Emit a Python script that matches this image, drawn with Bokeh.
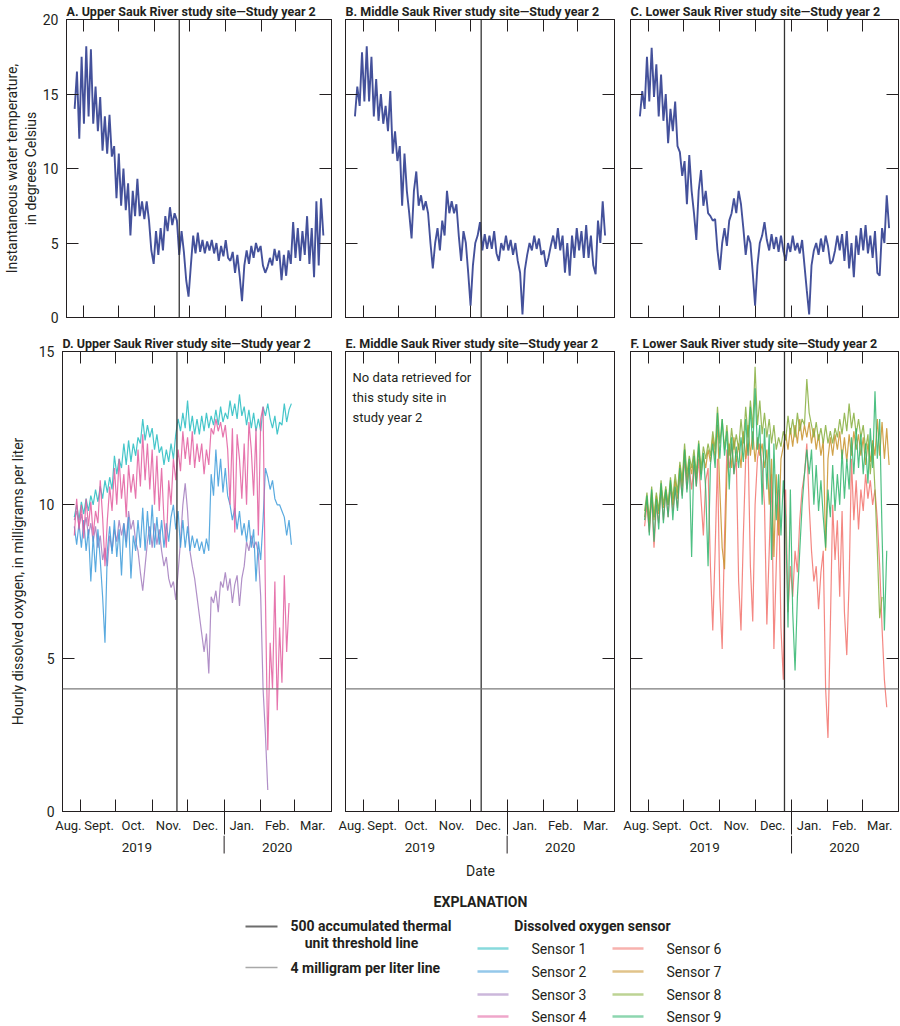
import pandas as pd
from bokeh.plotting import figure
from bokeh.models import Range1d, FixedTicker, LinearAxis, Span, Grid
from bokeh.layouts import column, row
from bokeh.embed import file_html
from bokeh.resources import INLINE
from bokeh.core.properties import value

FONT = "Liberation Sans Narrow, Roboto, sans-serif"
INK = "#231f20"

# ---------------- data (one value every 2 days) ----------------
titles = ["A. Upper Sauk River study site\u2014Study year 2",
          "B. Middle Sauk River study site\u2014Study year 2",
          "C. Lower Sauk River study site\u2014Study year 2",
          "D. Upper Sauk River study site\u2014Study year 2",
          "E. Middle Sauk River study site\u2014Study year 2",
          "F. Lower Sauk River study site\u2014Study year 2"]

x_start, x_end = "2019-08-17", "2020-04-01"
month_bounds = ["2019-09-01", "2019-10-01", "2019-11-01", "2019-12-01",
                "2020-01-01", "2020-02-01", "2020-03-01"]
month_labels = ["Aug.", "Sept.", "Oct.", "Nov.", "Dec.", "Jan.", "Feb.", "Mar."]
month_label_dates = ["2019-08-22", "2019-09-17", "2019-10-16", "2019-11-15",
                     "2019-12-16", "2020-01-16", "2020-02-15", "2020-03-16"]
year_labels = ["2019", "2020"]
year_label_dates = ["2019-10-19", "2020-02-15"]
year_sep_date = "2020-01-01"
threshold_dates = ["2019-11-22", "2019-12-10", "2019-12-26"]
do_limit = 4

temp_ticks = [0, 5, 10, 15, 20]
do_ticks = [0, 5, 10, 15]

temp_starts = ["2019-08-24", "2019-08-25", "2019-08-25"]
temp_A = [14.0, 16.5, 12.0, 17.5, 13.0, 18.2, 13.5, 18.0, 13.0, 15.5,
          12.5, 14.8, 11.2, 13.5, 11.0, 13.6, 10.8, 11.5, 8.0, 11.0,
          7.5, 10.0, 7.2, 9.0, 5.5, 8.5, 6.8, 9.3, 6.8, 7.8,
          6.6, 7.8, 6.5, 4.5, 3.6, 5.8, 4.2, 6.0, 4.5, 6.8,
          5.8, 7.4, 6.2, 7.0, 6.5, 4.2, 5.8, 4.4, 2.5, 1.4,
          3.5, 5.5, 4.3, 5.7, 4.4, 5.2, 4.3, 5.1, 4.5, 5.2,
          4.3, 5.0, 3.8, 4.8, 4.1, 5.2, 4.0, 3.8, 4.4, 3.0,
          4.2, 2.8, 1.1, 3.5, 4.5, 3.6, 4.8, 4.0, 5.0, 4.4,
          4.8, 3.5, 3.0, 3.4, 4.0, 3.5, 4.6, 3.8, 4.5, 2.5,
          4.2, 2.8, 4.5, 3.6, 6.4, 4.0, 6.0, 3.8, 5.8, 4.2,
          6.8, 3.6, 6.0, 2.7, 7.8, 3.5, 8.0, 5.5]
temp_B = [13.5, 15.5, 14.2, 17.8, 14.5, 18.2, 14.5, 17.5, 13.5, 16.0,
          13.2, 15.0, 13.0, 14.2, 12.5, 15.2, 11.0, 12.5, 10.5, 11.5,
          7.5, 11.0, 8.5, 7.0, 5.3, 8.5, 9.8, 7.5, 8.2, 7.2,
          7.8, 7.0, 5.0, 3.3, 5.0, 6.0, 4.5, 6.5, 5.5, 8.5,
          7.0, 7.8, 7.0, 7.6, 5.5, 3.8, 5.8, 5.0, 3.0, 0.8,
          3.5, 5.0, 5.5, 6.4, 4.5, 5.6, 4.6, 5.5, 4.6, 5.8,
          4.3, 3.8, 5.0, 4.5, 5.5, 4.5, 5.2, 4.2, 5.0, 3.8,
          3.0, 0.2, 3.2, 4.2, 5.0, 4.5, 5.5, 4.6, 5.3, 4.2,
          4.5, 3.4, 4.0, 4.8, 5.5, 4.6, 6.0, 4.5, 5.5, 3.0,
          5.0, 2.8, 5.5, 4.0, 6.0, 4.5, 5.8, 4.0, 6.2, 4.0,
          5.5, 3.5, 2.9, 6.5, 5.0, 7.8, 5.5]
temp_C = [13.5, 15.2, 14.0, 17.5, 14.5, 18.1, 14.8, 17.0, 13.5, 16.3,
          13.2, 15.0, 11.7, 14.0, 12.5, 14.5, 11.5, 11.1, 9.5, 10.5,
          7.6, 10.9, 8.5, 7.0, 5.2, 8.5, 9.9, 7.5, 8.5, 7.0,
          6.8, 6.5, 6.6, 4.5, 3.2, 5.0, 6.0, 4.8, 6.5, 7.0,
          8.0, 7.0, 8.5, 7.6, 6.0, 4.2, 5.5, 5.0, 3.0, 0.8,
          3.5, 5.0, 5.5, 6.4, 5.2, 4.5, 5.6, 4.6, 5.4, 4.4,
          5.5, 4.5, 3.8, 5.0, 4.4, 5.5, 4.5, 5.0, 4.3, 5.2,
          3.5, 1.8, 0.2, 3.5, 4.5, 5.0, 4.2, 5.3, 4.4, 5.5,
          4.8, 3.6, 3.8, 4.5, 5.5, 4.5, 5.6, 3.8, 5.8, 3.3,
          5.0, 2.7, 5.5, 4.2, 6.0, 4.5, 6.2, 4.3, 5.5, 4.0,
          5.8, 3.0, 2.8, 6.0, 5.0, 8.2, 6.0]
temps = [temp_A, temp_B, temp_C]

sensor_names = ["Sensor 1", "Sensor 2", "Sensor 3", "Sensor 4",
                "Sensor 6", "Sensor 7", "Sensor 8", "Sensor 9"]
sensor_colors = ["#26bcc1", "#3d9bd9", "#a27bbd", "#e25d9f",
                 "#f2726c", "#c8922a", "#86ae3d", "#2fb56d"]

upper_start = "2019-08-27"
do_s1 = [9.6, 10.0, 9.5, 10.1, 9.7, 10.2, 9.8, 10.3, 10.0, 10.5,
         10.1, 10.6, 10.2, 10.8, 10.4, 10.9, 10.5, 11.6, 11.0, 11.5,
         11.2, 12.0, 11.3, 12.1, 11.4, 12.0, 11.6, 12.2, 12.0, 12.8,
         12.1, 12.6, 12.2, 12.5, 11.8, 12.3, 11.7, 11.9, 11.3, 11.8,
         11.4, 12.0, 11.5, 12.3, 12.8, 12.4, 13.0, 12.5, 13.4, 12.4,
         12.9, 12.3, 12.8, 12.3, 12.9, 12.4, 13.0, 12.5, 12.9, 12.6,
         13.1, 12.6, 13.2, 12.7, 13.0, 12.8, 13.4, 12.9, 13.3, 12.8,
         13.6, 12.9, 13.2, 12.6, 13.1, 12.5, 13.0, 12.4, 12.8, 12.4,
         13.2, 12.9, 13.3, 12.8, 12.5, 12.9, 12.3, 12.7, 12.6, 13.3,
         12.7, 13.1, 13.3]
do_s2 = [9.3, 8.7, 9.4, 8.6, 9.5, 8.5, 9.2, 7.5, 9.0, 7.8,
         9.2, 8.2, 7.0, 5.5, 8.5, 9.3, 8.4, 9.5, 8.3, 9.2,
         7.7, 9.4, 8.6, 9.6, 7.6, 9.0, 8.5, 9.5, 8.6, 9.9,
         8.5, 9.8, 8.7, 10.0, 8.6, 9.6, 8.7, 9.5, 8.6, 9.4,
         8.8, 9.6, 10.0, 9.2, 9.8, 8.6, 9.5, 8.6, 9.3, 8.5,
         9.0, 8.6, 8.9, 8.5, 8.8, 8.4, 8.9, 8.5, 11.0, 10.3,
         11.8, 10.6, 11.5, 10.4, 11.2, 10.3, 10.0, 9.5, 9.9, 9.2,
         9.8, 9.0, 9.4, 8.8, 9.5, 8.6, 9.2, 7.5, 8.8, 8.2,
         9.5, 11.2, 10.9, 10.5, 10.8, 10.2, 10.0, 10.0, 9.8, 9.6,
         9.0, 9.5, 8.7]
do_s3 = [9.5, 9.8, 9.3, 9.7, 9.2, 9.6, 9.0, 9.4, 8.8, 9.3,
         8.6, 9.0, 8.2, 8.6, 8.0, 9.0, 8.5, 9.2, 8.8, 9.5,
         9.0, 9.4, 8.8, 9.8, 9.2, 9.5, 8.8, 8.5, 7.8, 7.2,
         8.0, 8.8, 9.3, 8.6, 9.4, 8.7, 9.2, 8.5, 8.0, 8.3,
         7.6, 7.3, 7.5, 6.9, 7.8, 8.8, 10.0, 10.7, 9.8, 8.5,
         8.0, 7.6, 7.0, 6.4, 5.8, 5.2, 5.8, 4.5, 7.0, 6.8,
         7.2, 6.5, 7.5, 7.3, 7.8, 7.2, 7.6, 6.8, 7.4, 7.7,
         6.7, 7.6, 8.0, 8.8, 8.5, 9.0, 8.6, 8.8, 8.4, 7.0,
         4.0, 2.5, 0.7]
do_s4 = [9.0, 10.2, 9.2, 10.0, 8.9, 10.2, 9.3, 10.1, 9.0, 9.8,
         9.4, 10.8, 9.6, 8.0, 9.5, 10.6, 9.8, 11.2, 10.0, 11.5,
         10.2, 11.0, 9.6, 11.3, 10.4, 11.0, 10.2, 11.8, 10.6, 12.3,
         10.8, 12.0, 10.5, 11.8, 10.0, 11.6, 9.8, 11.2, 9.5, 8.6,
         10.8, 10.0, 11.5, 10.8, 11.8, 11.1, 12.4, 11.5, 12.2, 11.3,
         12.4, 11.2, 12.0, 11.4, 12.0, 11.0, 11.8, 11.3, 12.5, 12.3,
         12.8, 12.4, 12.7, 12.2, 12.6, 11.8, 10.0, 12.5, 9.1, 12.3,
         11.5, 10.2, 12.0, 10.0, 12.7, 11.8, 10.3, 12.5, 9.0, 12.8,
         13.2, 7.0, 2.0, 5.5, 4.0, 7.5, 3.3, 6.0, 4.2, 7.7,
         5.2, 6.8]

lower_start = "2019-08-29"
do_s6 = [9.3, 10.0, 9.1, 10.3, 8.6, 10.0, 9.4, 10.5, 9.5, 10.4,
         9.6, 10.6, 9.8, 10.5, 9.9, 11.0, 10.3, 11.5, 10.5, 11.2,
         10.5, 11.3, 10.6, 11.5, 10.2, 9.0, 10.8, 11.2, 8.0, 5.9,
         8.5, 11.5, 7.0, 5.3, 9.0, 11.8, 11.2, 12.0, 11.0, 11.5,
         7.5, 5.9, 9.0, 11.5, 12.0, 8.0, 6.2, 10.0, 11.5, 12.0,
         11.2, 10.0, 6.1, 8.5, 11.0, 5.3, 8.0, 10.5, 6.0, 4.3,
         10.5, 6.5, 8.0, 7.0, 8.5, 7.8, 9.5, 10.5, 11.0, 12.0,
         10.0, 8.5, 7.5, 8.0, 6.6, 7.8, 8.5, 4.0, 2.4, 6.0,
         10.0, 8.2, 9.5, 7.0, 9.8, 6.5, 5.1, 7.5, 11.5, 9.5,
         10.8, 9.2, 10.5, 9.8, 11.0, 10.2, 10.8, 10.0, 10.5, 9.5,
         8.0, 6.0, 4.3, 3.4]
do_s7 = [9.6, 10.2, 9.3, 10.4, 9.5, 10.3, 9.7, 10.6, 9.9, 10.5,
         10.0, 10.7, 10.0, 10.8, 10.2, 11.3, 10.6, 11.8, 10.8, 11.4,
         11.0, 11.6, 10.8, 11.8, 11.0, 11.6, 11.2, 11.8, 11.4, 12.2,
         11.5, 12.6, 10.5, 8.6, 7.9, 11.0, 12.0, 11.2, 12.2, 11.4,
         12.0, 11.2, 12.4, 11.5, 12.6, 11.6, 12.4, 11.4, 12.2, 11.6,
         12.0, 11.2, 11.8, 10.0, 11.5, 8.3, 11.0, 9.0, 11.5, 11.9,
         12.3, 11.8, 12.5, 11.9, 12.6, 12.0, 12.8, 12.1, 12.6, 12.2,
         12.7, 12.0, 12.5, 11.8, 12.3, 11.6, 12.1, 8.5, 11.5, 12.2,
         11.6, 12.3, 11.8, 12.4, 11.5, 12.2, 11.4, 12.3, 11.6, 12.4,
         11.8, 12.3, 11.6, 12.2, 11.3, 12.0, 11.4, 12.1, 11.6, 12.8,
         11.6, 12.7, 11.5, 12.5, 11.3]
do_s8 = [9.8, 10.4, 9.5, 10.6, 9.6, 10.4, 9.8, 10.8, 10.0, 10.6,
         10.0, 10.9, 10.2, 11.0, 10.4, 11.4, 10.8, 12.0, 11.0, 11.6,
         11.2, 11.8, 11.0, 12.1, 11.2, 11.9, 11.5, 12.0, 11.6, 12.4,
         11.8, 13.2, 12.0, 12.8, 11.8, 12.6, 11.6, 12.5, 11.8, 12.3,
         11.8, 12.8, 12.0, 13.2, 12.2, 13.4, 12.5, 14.5, 12.6, 13.4,
         12.3, 13.0, 12.2, 12.8, 12.0, 12.6, 11.8, 12.2, 11.9, 12.4,
         12.1, 12.9, 12.3, 12.8, 12.2, 13.0, 12.4, 12.8, 12.6, 14.1,
         13.0, 12.6, 12.2, 12.7, 12.1, 12.5, 12.0, 12.6, 12.0, 12.4,
         12.0, 12.5, 12.2, 12.8, 12.3, 13.0, 12.4, 13.3, 12.5, 13.0,
         12.3, 12.8, 12.2, 12.6, 11.8, 12.3, 11.0, 12.0, 10.5, 8.5,
         6.3, 7.0]
do_s9 = [9.5, 10.3, 9.0, 10.5, 8.8, 10.2, 9.2, 10.7, 9.4, 10.5,
         9.6, 10.8, 9.5, 10.6, 9.8, 11.2, 10.2, 11.8, 10.4, 11.5,
         8.3, 11.6, 10.6, 12.0, 10.8, 11.7, 10.5, 8.0, 11.3, 12.0,
         11.2, 13.0, 11.5, 12.8, 11.6, 12.4, 10.5, 12.2, 11.0, 11.9,
         11.2, 12.2, 11.4, 12.8, 11.6, 13.2, 11.8, 13.8, 11.8, 12.6,
         10.0, 12.5, 10.5, 12.3, 8.2, 12.0, 9.5, 11.0, 9.0, 10.8,
         9.6, 6.0, 10.5, 6.5, 4.6, 7.0, 8.5, 10.0, 11.0, 11.8,
         11.0, 11.8, 10.0, 11.3, 9.8, 10.8, 9.6, 8.6, 10.5, 9.6,
         11.3, 9.8, 11.0, 10.0, 11.8, 10.2, 11.5, 10.5, 12.2, 11.0,
         12.5, 11.2, 12.3, 11.0, 12.0, 10.7, 12.5, 11.2, 13.7, 11.5,
         12.8, 9.1, 5.9, 8.5]

upper_sensors = [(do_s3, 2), (do_s2, 1), (do_s1, 0), (do_s4, 3)]
lower_sensors = [(do_s6, 4), (do_s7, 5), (do_s8, 6), (do_s9, 7)]
temp_color = "#3a4896"
no_data_text = "No data retrieved for\nthis study site in\nstudy year 2"

# ---------------- layout helpers (Bokeh's page template has no body margin) ----------------
COL_W = [338, 284, 277]
COL_LB = [62, 7, 8]
COL_RB = [7, 8, 1]
BOT_GAP = 22         # month-label band under the lower frames
STRIP_H = 23         # year-label strip under that band


def ms(d):
    return pd.Timestamp(d).value / 1e6


def dates2(start, vals):
    return pd.date_range(start, periods=len(vals), freq="2D")


def hide_labels(ax):
    ax.major_label_text_font_size = "0px"
    ax.major_label_text_color = None
    ax.major_label_standoff = 0


def style_axis(ax, labels):
    ax.major_tick_in = 12
    ax.major_tick_out = 0
    ax.minor_tick_line_color = None
    ax.axis_line_color = INK
    ax.major_tick_line_color = INK
    if labels:
        ax.major_label_text_font = FONT
        ax.major_label_text_font_size = "14px"
        ax.major_label_text_color = INK
        ax.major_label_standoff = 8
    else:
        hide_labels(ax)


def drop_grids(p):
    p.center = [r for r in p.center if not isinstance(r, Grid)]


def make_panel(col, title, ymax, yticks, height, top, bottom, ylabel, lab_standoff, thr, bottom_row):
    p = figure(width=COL_W[col], height=height,
               x_range=Range1d(ms(x_start), ms(x_end)), y_range=Range1d(0, ymax),
               x_axis_location=None, y_axis_location=None, toolbar_location=None,
               output_backend="svg", min_border_left=COL_LB[col], min_border_right=COL_RB[col],
               min_border_top=top, min_border_bottom=bottom, title=title)
    drop_grids(p)
    p.title.align = "left"
    p.title.text_font = FONT
    p.title.text_font_size = "12.5px"
    p.title.text_font_style = "bold"
    p.title.text_color = INK
    p.title.standoff = 1
    p.title.offset = 0
    p.outline_line_color = INK
    p.outline_line_width = 1
    for side in ("below", "above"):
        ax = LinearAxis(ticker=FixedTicker(ticks=[ms(d) for d in month_bounds], minor_ticks=[]))
        style_axis(ax, False)
        p.add_layout(ax, side)
    if bottom_row:
        # month names centred in each month, plus the start of the 2019 | 2020 divider
        sep_len = BOT_GAP + 1
        lab = LinearAxis(ticker=FixedTicker(ticks=[ms(d) for d in month_label_dates],
                                            minor_ticks=[ms(year_sep_date)]),
                         major_label_overrides={ms(d): t for d, t in zip(month_label_dates, month_labels)})
        lab.axis_line_color = None
        lab.major_tick_line_color = None
        lab.major_tick_in = 0
        lab.major_tick_out = 0
        lab.minor_tick_line_color = INK
        lab.minor_tick_in = 0
        lab.minor_tick_out = sep_len
        lab.major_label_text_font = FONT
        lab.major_label_text_font_size = "13px"
        lab.major_label_text_color = INK
        lab.major_label_standoff = 6 - sep_len   # labels sit just under the frame
        p.add_layout(lab, "below")
    yt = FixedTicker(ticks=yticks, minor_ticks=[])
    left = LinearAxis(ticker=yt)
    style_axis(left, col == 0)
    if col == 0:
        left.axis_label = ylabel
        left.axis_label_text_font = FONT
        left.axis_label_text_font_size = "14px"
        left.axis_label_text_font_style = "normal"
        left.axis_label_text_color = INK
        left.axis_label_standoff = lab_standoff
        left.axis_label_text_line_height = 1.2
    p.add_layout(left, "left")
    right = LinearAxis(ticker=yt)
    style_axis(right, False)
    p.add_layout(right, "right")
    p.add_layout(Span(location=ms(thr), dimension="height", line_color="#333333", line_width=1.3))
    return p


# ---------------- top row: temperature ----------------
top_row = []
for i in range(3):
    p = make_panel(i, titles[i], 20, temp_ticks, 333, 19, 16,
                   "Instantaneous water temperature,\nin degrees Celsius", 1, threshold_dates[i], False)
    p.line(x=dates2(temp_starts[i], temps[i]), y=temps[i], line_color=temp_color,
           line_width=1.9, line_alpha=0.95)
    top_row.append(p)

# ---------------- bottom row: dissolved oxygen ----------------
bot_row = []
for i in range(3):
    p = make_panel(i, titles[3 + i], 15, do_ticks, 480 + BOT_GAP, 18, BOT_GAP,
                   "Hourly dissolved oxygen, in milligrams per liter", 10, threshold_dates[i], True)
    p.add_layout(Span(location=do_limit, dimension="width", line_color="#7a7a7a", line_width=1.2))
    if i == 0:
        for vals, k in upper_sensors:
            p.line(x=dates2(upper_start, vals), y=vals, line_color=sensor_colors[k],
                   line_width=1.2, line_alpha=0.85)
    elif i == 1:
        p.text(x=[ms("2019-08-23")], y=[14.4], text=[no_data_text], text_font=value(FONT),
               text_font_size="13px", text_color=INK, text_baseline="top",
               text_align="left", text_line_height=1.35)
    else:
        for vals, k in lower_sensors:
            p.line(x=dates2(lower_start, vals), y=vals, line_color=sensor_colors[k],
                   line_width=1.2, line_alpha=0.85)
    bot_row.append(p)

# ---------------- year label strips ----------------
strips = []
for i in range(3):
    fw = COL_W[i] - COL_LB[i] - COL_RB[i]
    dpp = (ms(x_end) - ms(x_start)) / fw
    s = figure(width=COL_W[i], height=STRIP_H,
               x_range=Range1d(ms(x_start) - COL_LB[i] * dpp, ms(x_end) + COL_RB[i] * dpp),
               y_range=Range1d(STRIP_H, 0), x_axis_location=None, y_axis_location=None,
               toolbar_location=None, output_backend="svg", min_border=0,
               outline_line_color=None)
    drop_grids(s)
    s.text(x=[ms(d) for d in year_label_dates], y=[12] * len(year_labels), text=year_labels,
           text_font=value(FONT), text_font_size="13.5px", text_color=INK,
           text_align="center", text_baseline="middle")
    s.segment(x0=[ms(year_sep_date)], y0=[0], x1=[ms(year_sep_date)], y1=[18],
              line_color=INK, line_width=1)
    strips.append(s)

# ---------------- explanation ----------------
leg = figure(width=899, height=168, x_range=Range1d(0, 899), y_range=Range1d(1026, 858),
             x_axis_location=None, y_axis_location=None, toolbar_location=None,
             output_backend="svg", min_border=0, outline_line_color=None)
drop_grids(leg)
txt = dict(text_font=value(FONT), text_font_size="14px", text_color=INK, text_baseline="middle")
leg.text(x=[480], y=[870], text=["Date"], text_align="center", **txt)
leg.text(x=[480], y=[901], text=["EXPLANATION"], text_align="center", text_font_style="bold", **txt)
leg.segment(x0=[245, 245], y0=[926, 967], x1=[277, 277], y1=[926, 967],
            line_color=["#6d6d6d", "#a8a8a8"], line_width=[2.2, 1.5])
leg.text(x=[290], y=[925], text=["500 accumulated thermal"], text_align="left",
         text_font_style="bold", **txt)
leg.text(x=[361], y=[942], text=["unit threshold line"], text_align="center",
         text_font_style="bold", **txt)
leg.text(x=[290], y=[967], text=["4 milligram per liter line"], text_align="left",
         text_font_style="bold", **txt)
leg.text(x=[592], y=[925], text=["Dissolved oxygen sensor"], text_align="center",
         text_font_style="bold", **txt)
row_y = [948, 971, 994, 1016]
for k, name in enumerate(sensor_names):
    c = k // 4
    yy = row_y[k % 4]
    x0 = [477, 612][c]
    leg.segment(x0=[x0], y0=[yy], x1=[x0 + 31], y1=[yy], line_color=sensor_colors[k],
                line_width=2.5, line_alpha=0.55)
    leg.text(x=[x0 + 54], y=[yy], text=[name], text_align="left", **txt)

layout = column(row(*top_row), row(*bot_row), row(*strips), leg)
open("out.html", "w").write(file_html(layout, INLINE, "Sauk River study year 2"))
